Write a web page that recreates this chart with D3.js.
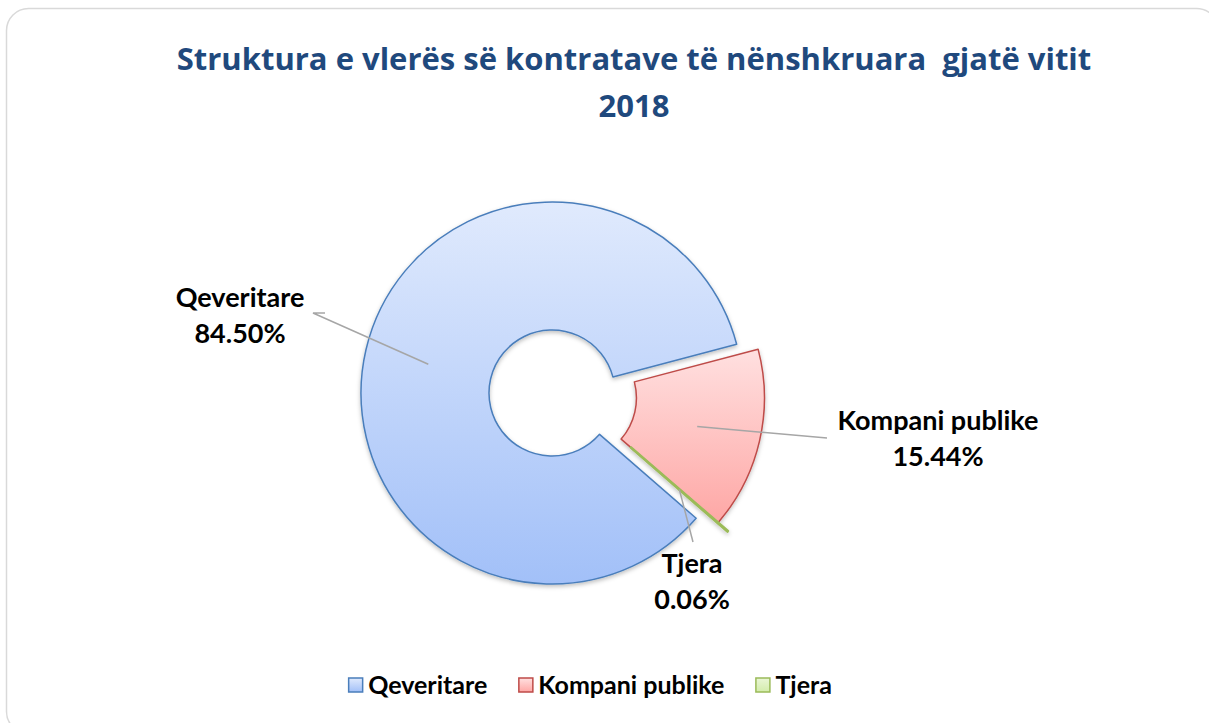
<!DOCTYPE html>
<html>
<head>
<meta charset="utf-8">
<script src="https://cdn.jsdelivr.net/npm/d3@7"></script>
<style>
  html, body { margin: 0; padding: 0; background: #fff; }
  svg { display: block; }
</style>
</head>
<body>
<div id="svgContainer"></div>
<script>
// data
const categories = ["Qeveritare", "Kompani publike", "Tjera"];
const shares = [84.50, 15.44, 0.06];
const shareLabels = ["84.50%", "15.44%", "0.06%"];
const titleLines = ["Struktura e vlerës së kontratave të nënshkruara  gjatë vitit", "2018"];

// look
const fills = [
    { top: "#e0eafd", bottom: "#a2c0f8", stroke: "#4a7ebb" },
    { top: "#ffe0e0", bottom: "#fea7a5", stroke: "#be4b48" },
    { top: "#eaf6d6", bottom: "#d3ecab", stroke: "#9bbb59" }
];
const width = 1209, height = 723;
const cx = 552, cy = 393, outerR = 191, innerR = 63;
const startDeg = 131;
// explode distance and direction (deg, clockwise from 12 o'clock; null = slice middle)
const explode = [[0, null], [22, null], [34, 113]];
// label centres / first baselines and leader bends
const labelPos = [[240, 307], [938, 430], [692, 573]];
const leaderEnd = [[[313, 313], [325, 313]], [[827, 438]], [[693, 542]]];
const fontFam = "Lato, 'Open Sans', sans-serif";

const svg = d3.select("#svgContainer").append("svg")
    .attr("width", width)
    .attr("height", height);

const defs = svg.append("defs");
fills.forEach((f, i) => {
    const g = defs.append("linearGradient")
        .attr("id", "grad" + i)
        .attr("x1", 0).attr("y1", 0).attr("x2", 0).attr("y2", 1);
    g.append("stop").attr("offset", "0%").attr("stop-color", f.top);
    g.append("stop").attr("offset", "100%").attr("stop-color", f.bottom);
});
defs.append("filter").attr("id", "shadow")
    .attr("x", "-10%").attr("y", "-10%").attr("width", "120%").attr("height", "120%")
    .append("feDropShadow")
    .attr("dx", 0).attr("dy", 2).attr("stdDeviation", 2)
    .attr("flood-color", "#000").attr("flood-opacity", 0.25);

// frame
svg.append("rect")
    .attr("x", 6.5).attr("y", 8.5)
    .attr("width", 1212).attr("height", 725)
    .attr("rx", 22).attr("ry", 22)
    .attr("fill", "#fff")
    .attr("stroke", "#d9d9d9")
    .attr("stroke-width", 1.5);

// title
svg.append("text")
    .attr("x", 634)
    .attr("y", 70)
    .attr("text-anchor", "middle")
    .attr("font-family", "'Open Sans', sans-serif")
    .attr("font-weight", "bold")
    .attr("font-size", 31)
    .attr("fill", "#1f497d")
    .selectAll("tspan")
    .data(titleLines)
    .enter().append("tspan")
    .attr("x", 634)
    .attr("dy", (d, i) => i === 0 ? 0 : 47)
    .style("white-space", "pre")
    .text(d => d);

const rows = categories.map((c, i) => ({ name: c, value: shares[i], label: shareLabels[i], i: i }));

const toRad = d => d * Math.PI / 180;
const pie = d3.pie()
    .sort(null)
    .value(d => d.value)
    .startAngle(toRad(startDeg))
    .endAngle(toRad(startDeg) + 2 * Math.PI);

const arc = d3.arc().innerRadius(innerR).outerRadius(outerR);
const arcs = pie(rows);

function shift(d) {
    const e = explode[d.data.i];
    const a = e[1] === null ? (d.startAngle + d.endAngle) / 2 : toRad(e[1]);
    return [e[0] * Math.sin(a), -e[0] * Math.cos(a)];
}

const slices = svg.append("g")
    .attr("transform", `translate(${cx},${cy})`)
    .attr("filter", "url(#shadow)");

slices.selectAll("path")
    .data(arcs)
    .enter().append("path")
    .attr("transform", d => { const s = shift(d); return `translate(${s[0]},${s[1]})`; })
    .attr("d", arc)
    .attr("fill", d => `url(#grad${d.data.i})`)
    .attr("stroke", d => fills[d.data.i].stroke)
    .attr("stroke-width", d => d.data.i === 2 ? 2.5 : 1.5)
    .attr("stroke-linejoin", "round");

// leader lines
const leaders = svg.append("g")
    .attr("fill", "none")
    .attr("stroke", "#a6a6a6")
    .attr("stroke-width", 1.5);

arcs.forEach(d => {
    const c = arc.centroid(d), s = shift(d);
    const pts = [...leaderEnd[d.data.i]].reverse();
    pts.push([cx + c[0] + s[0], cy + c[1] + s[1]]);
    leaders.append("path").attr("d", d3.line()(pts.reverse()));
});

// data labels
const labels = svg.append("g")
    .attr("font-family", fontFam)
    .attr("font-weight", "bold")
    .attr("font-size", 27)
    .attr("fill", "#000")
    .attr("text-anchor", "middle");

rows.forEach((r, i) => {
    const t = labels.append("text")
        .attr("x", labelPos[i][0])
        .attr("y", labelPos[i][1]);
    t.append("tspan").attr("x", labelPos[i][0]).text(r.name);
    t.append("tspan").attr("x", labelPos[i][0]).attr("dy", 36).text(r.label);
});

// legend
const legend = svg.append("g")
    .attr("font-family", fontFam)
    .attr("font-weight", "bold")
    .attr("font-size", 25);

const box = 14, boxGap = 6, itemGap = 31, legendY = 694;
const items = rows.map(r => {
    const g = legend.append("g");
    g.append("rect")
        .attr("x", 0.5).attr("y", -16)
        .attr("width", box).attr("height", box)
        .attr("fill", `url(#grad${r.i})`)
        .attr("stroke", fills[r.i].stroke)
        .attr("stroke-width", 1.5);
    const t = g.append("text")
        .attr("x", box + boxGap)
        .attr("y", 0)
        .text(r.name);
    return { g: g, w: box + boxGap + t.node().getComputedTextLength() };
});
const total = d3.sum(items, d => d.w) + itemGap * (items.length - 1);
let lx = 590 - total / 2;
items.forEach(it => {
    it.g.attr("transform", `translate(${lx},${legendY})`);
    lx += it.w + itemGap;
});
</script>
</body>
</html>
